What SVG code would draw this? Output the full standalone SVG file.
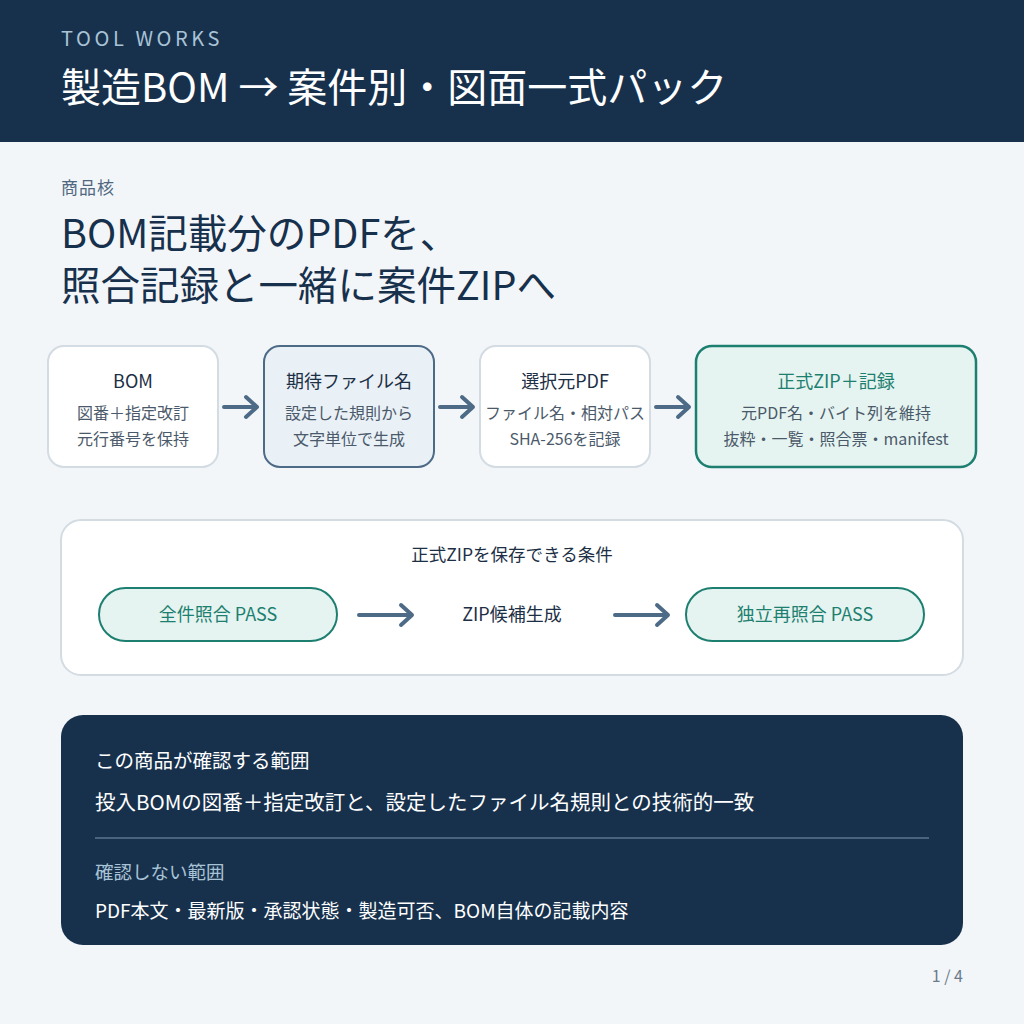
<svg xmlns="http://www.w3.org/2000/svg" width="1024" height="1024" viewBox="0 0 1024 1024">
<defs>
<style>
text{font-family:"Noto Sans CJK JP","Noto Sans",sans-serif}
.t{font-size:18px;fill:#1c2f45;text-anchor:middle}
.s{font-size:16px;fill:#4b5a6a;text-anchor:middle}
.g{fill:#1d7f70}
.arr{stroke:#4d6b86;stroke-width:4;fill:none;stroke-linecap:round;stroke-linejoin:round}
</style>
</defs>
<rect width="1024" height="1024" fill="#f3f6f9"/>
<rect width="1024" height="142" fill="#17314d"/>
<text x="61" y="46" font-size="20" fill="#a9c3d6" letter-spacing="3.6">TOOL WORKS</text>
<text x="61" y="102" font-size="40" fill="#ffffff">製造BOM → 案件別・図面一式パック</text>
<text x="61" y="194" font-size="17" fill="#4f6880" letter-spacing="1">商品核</text>
<text x="61" y="248" font-size="39.5" fill="#17314d">BOM記載分のPDFを、</text>
<text x="61" y="300" font-size="39.5" fill="#17314d">照合記録と一緒に案件ZIPへ</text>

<g id="n1"><rect x="48" y="346" width="170" height="121" rx="16" fill="#fff" stroke="#d3dbe3" stroke-width="2"/>
<text class="t" x="133" y="388">BOM</text><text class="s" x="133" y="419">図番＋指定改訂</text><text class="s" x="133" y="445">元行番号を保持</text></g>
<g id="n2"><rect x="264" y="346" width="170" height="121" rx="16" fill="#e9f0f6" stroke="#4d6b86" stroke-width="2"/>
<text class="t" x="349" y="388">期待ファイル名</text><text class="s" x="349" y="419">設定した規則から</text><text class="s" x="349" y="445">文字単位で生成</text></g>
<g id="n3"><rect x="480" y="346" width="170" height="121" rx="16" fill="#fff" stroke="#d3dbe3" stroke-width="2"/>
<text class="t" x="565" y="388">選択元PDF</text><text class="s" x="565" y="419">ファイル名・相対パス</text><text class="s" x="565" y="445">SHA-256を記録</text></g>
<g id="n4"><rect x="696" y="346" width="280" height="121" rx="16" fill="#e6f4f1" stroke="#1d7f70" stroke-width="2.5"/>
<text class="t g" x="836" y="388">正式ZIP＋記録</text><text class="s" x="836" y="419">元PDF名・バイト列を維持</text><text class="s" x="836" y="445">抜粋・一覧・照合票・manifest</text></g>

<g id="cond"><rect x="61" y="520" width="902" height="155" rx="20" fill="#fff" stroke="#d3dbe3" stroke-width="2"/>
<text x="512" y="561" font-size="17.5" fill="#1c2f45" text-anchor="middle">正式ZIPを保存できる条件</text></g>
<g id="p1"><rect x="99" y="588" width="238" height="53" rx="26.5" fill="#e6f4f1" stroke="#1d7f70" stroke-width="2"/>
<text class="t g" x="218" y="621" font-size="17.5">全件照合 PASS</text></g>
<g id="p2"><text class="t" x="512" y="621" font-size="17.5">ZIP候補生成</text></g>
<g id="p3"><rect x="686" y="588" width="238" height="53" rx="26.5" fill="#e6f4f1" stroke="#1d7f70" stroke-width="2"/>
<text class="t g" x="805" y="621" font-size="17.5">独立再照合 PASS</text></g>

<g id="connectors">
<path class="arr" d="M224 407H256M246 397L257 407L246 417"/>
<path class="arr" d="M440 407H472M462 397L473 407L462 417"/>
<path class="arr" d="M656 407H688M678 397L689 407L678 417"/>
<path class="arr" d="M359 615H411M401 605L412 615L401 625"/>
<path class="arr" d="M615 615H667M657 605L668 615L657 625"/>
</g>

<g id="scope"><rect x="61" y="715" width="902" height="230" rx="22" fill="#17314d"/>
<text x="95" y="768" font-size="19.5" fill="#ffffff">この商品が確認する範囲</text>
<text x="95" y="810" font-size="20.5" fill="#ffffff">投入BOMの図番＋指定改訂と、設定したファイル名規則との技術的一致</text>
<line x1="95" y1="838" x2="929" y2="838" stroke="#5d7590" stroke-width="1.5"/>
<text x="95" y="879" font-size="18.5" fill="#a9c3d6">確認しない範囲</text>
<text x="95" y="918" font-size="19" fill="#ffffff">PDF本文・最新版・承認状態・製造可否、BOM自体の記載内容</text></g>
<text x="963" y="982" font-size="16" fill="#6a7b8c" text-anchor="end">1 / 4</text>
</svg>
